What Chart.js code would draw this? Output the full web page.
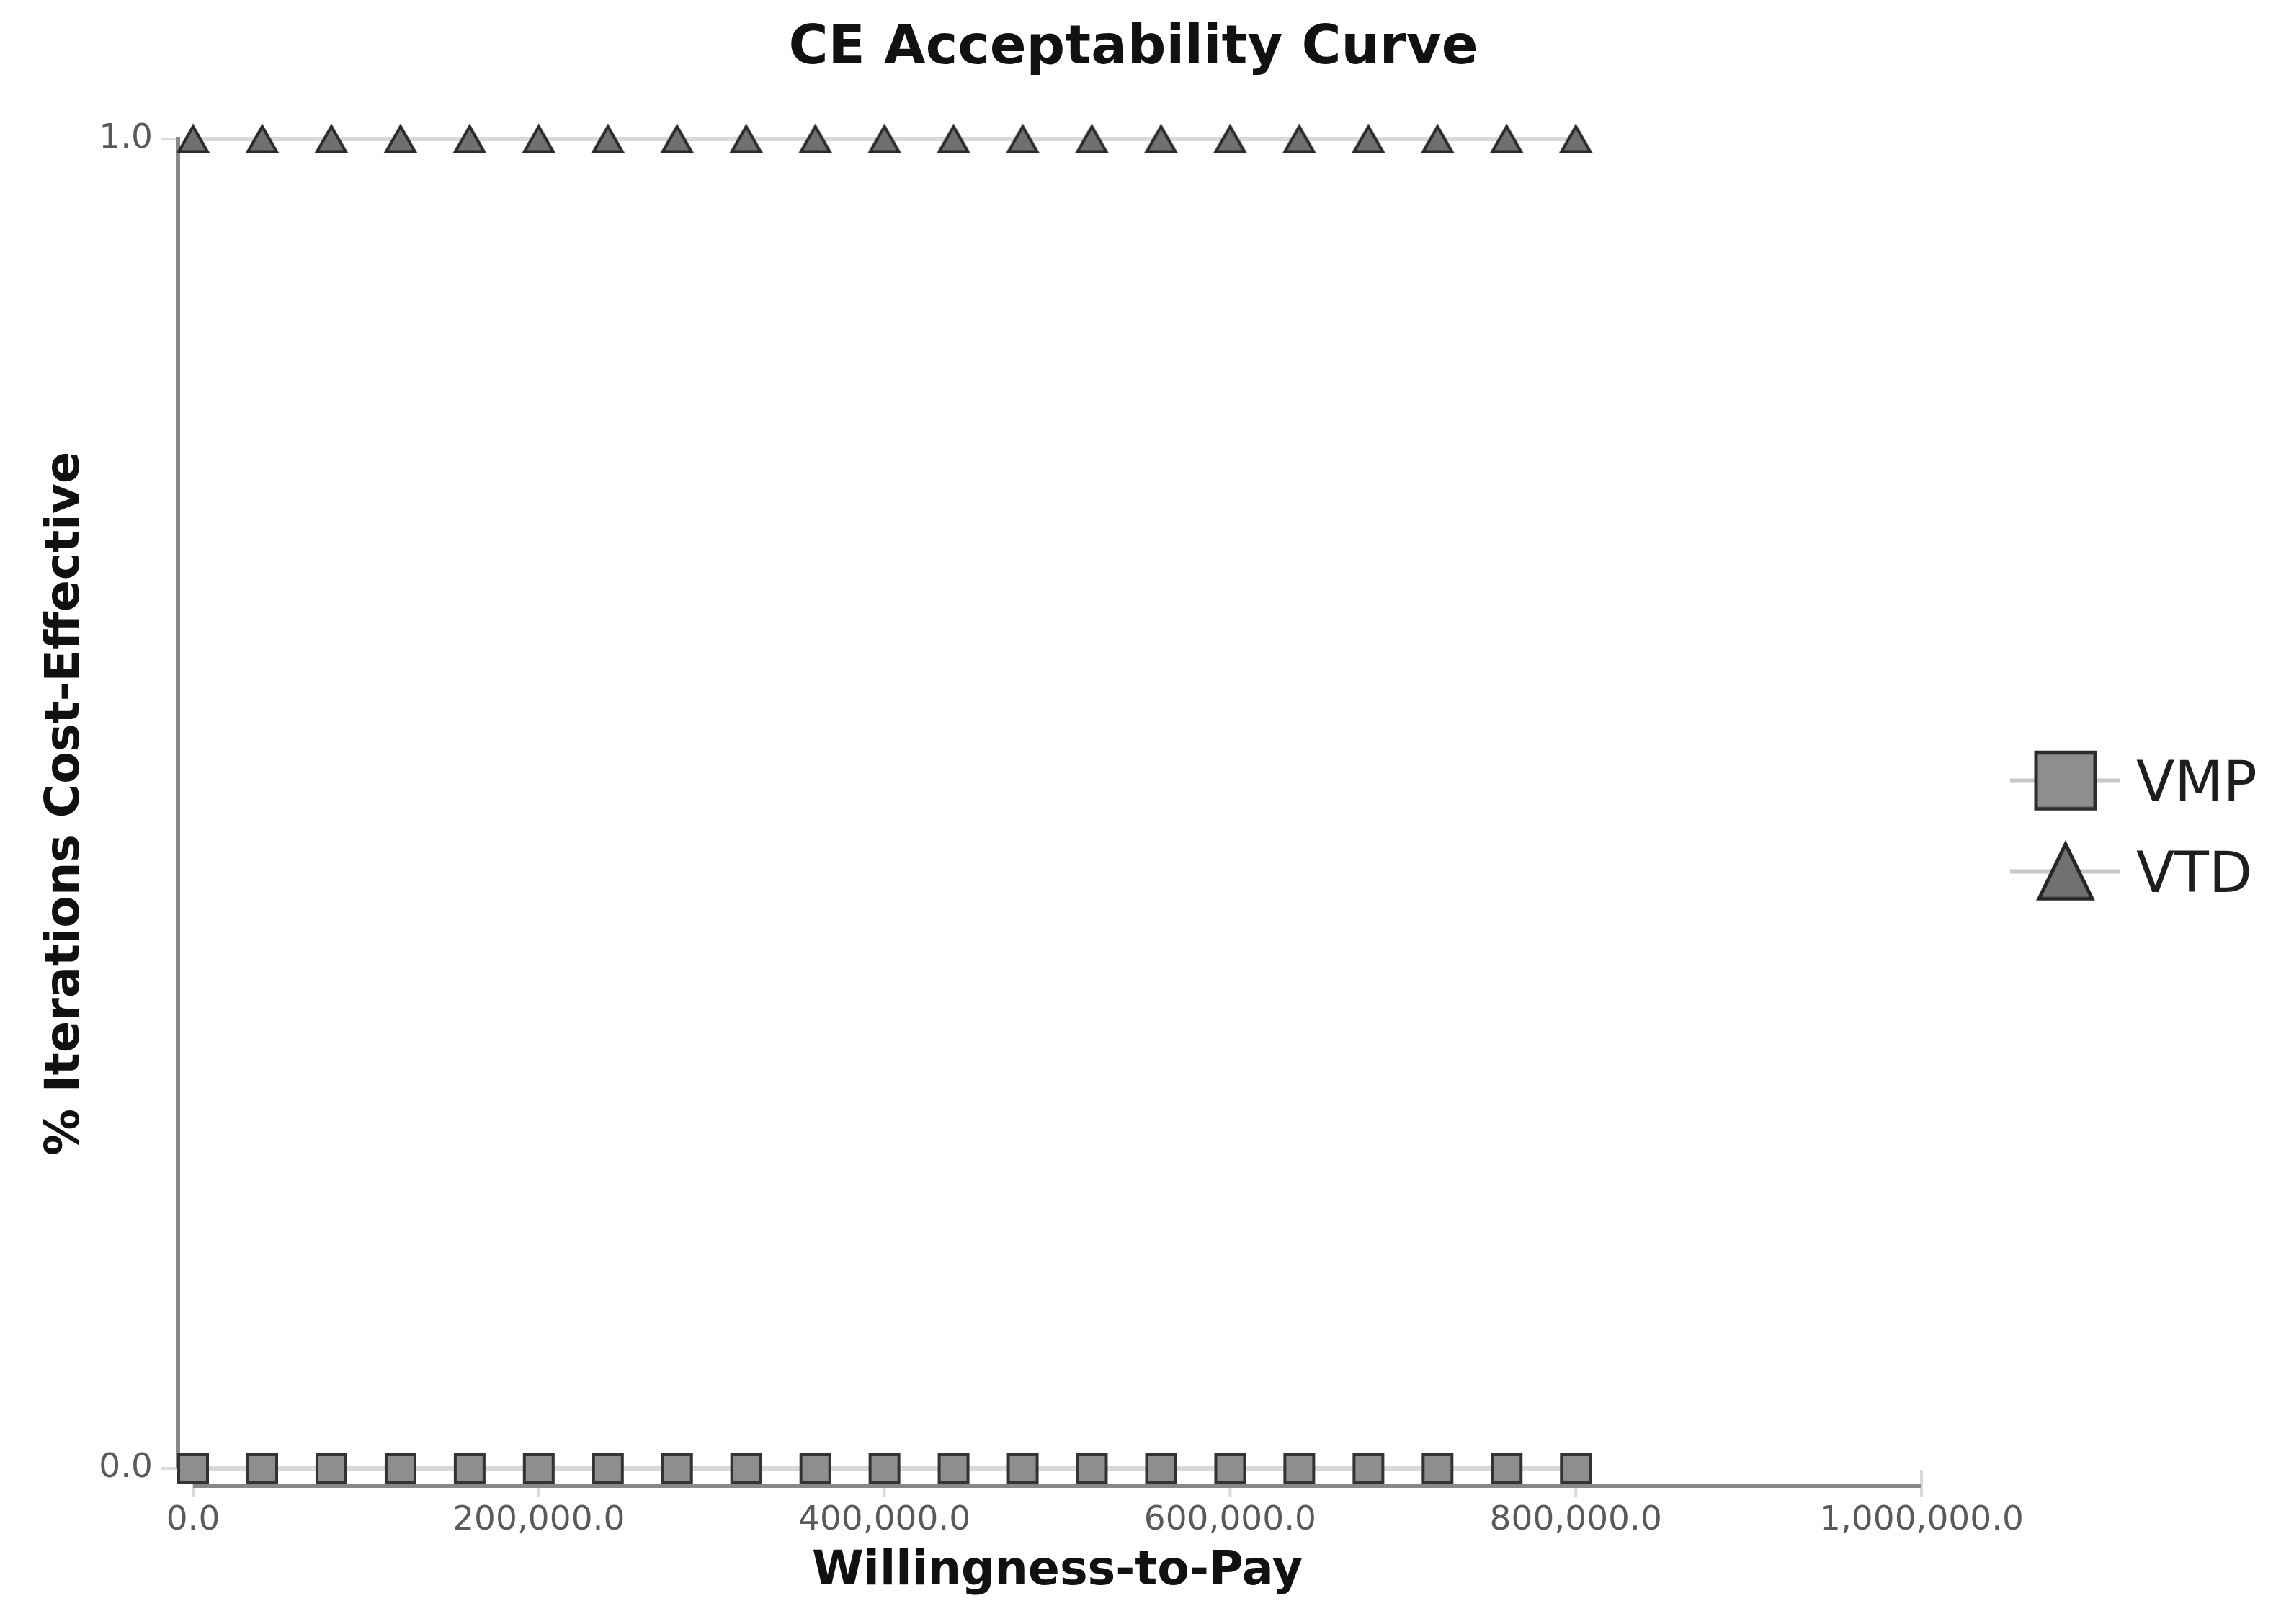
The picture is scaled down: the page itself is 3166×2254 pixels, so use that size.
<!DOCTYPE html>
<html>
<head>
<meta charset="utf-8">
<title>CE Acceptability Curve</title>
<script src="https://cdn.jsdelivr.net/npm/chart.js@4.4.1/dist/chart.umd.min.js"></script>
<style>
  html, body { margin: 0; padding: 0; background: #fff; }
  #wrap { width: 3166px; height: 2254px; }
</style>
</head>
<body>
<div id="wrap"><canvas id="ceac" width="3166" height="2254"></canvas></div>
<script>
// willingness-to-pay steps and share of iterations cost-effective
const wtp = [0, 40000, 80000, 120000, 160000, 200000, 240000, 280000, 320000, 360000, 400000,
             440000, 480000, 520000, 560000, 600000, 640000, 680000, 720000, 760000, 800000];
const vmp = [0, 0, 0, 0, 0, 0, 0, 0, 0, 0, 0, 0, 0, 0, 0, 0, 0, 0, 0, 0, 0];
const vtd = [1, 1, 1, 1, 1, 1, 1, 1, 1, 1, 1, 1, 1, 1, 1, 1, 1, 1, 1, 1, 1];
const seriesNames = ['VMP', 'VTD'];
const xTicks = [0, 200000, 400000, 600000, 800000, 1000000];
const yTicks = [0, 1];

const FONT = "'DejaVu Sans', Verdana, sans-serif";
Chart.defaults.font.family = FONT;

function makeMarker(shape, w, h, fill, stroke, lw) {
    const pad = lw * 2;
    const c = document.createElement('canvas');
    c.width = Math.ceil(w + pad * 2);
    c.height = Math.ceil(h + pad * 2);
    const g = c.getContext('2d');
    const cx = c.width / 2, cy = c.height / 2;
    g.beginPath();
    if (shape === 'square') {
        g.rect(cx - w / 2, cy - h / 2, w, h);
    } else {
        g.moveTo(cx, cy - h / 2);
        g.lineTo(cx + w / 2, cy + h / 2);
        g.lineTo(cx - w / 2, cy + h / 2);
        g.closePath();
    }
    g.fillStyle = fill;
    g.fill();
    g.lineWidth = lw;
    g.strokeStyle = stroke;
    g.lineJoin = 'miter';
    g.stroke();
    return c;
}

const squareFill = '#8e8e8e', triFill = '#707070';
const pointMarkers = [
    makeMarker('square', 40, 38, squareFill, '#333', 4),
    makeMarker('triangle', 40, 35, triFill, '#2a2a2a', 4)
];
const legendMarkers = [
    makeMarker('square', 82, 78, squareFill, '#2c2c2c', 5),
    makeMarker('triangle', 74, 76, triFill, '#262626', 5)
];

const fmt = v => Number(v).toLocaleString('en-US', { minimumFractionDigits: 1, maximumFractionDigits: 1 });

// JFreeChart-style axes: drawn a little away from the data area
const offsetAxes = {
    id: 'offsetAxes',
    beforeDatasetsDraw(chart) {
        const { ctx, chartArea: a, scales: { x, y } } = chart;
        ctx.save();
        ctx.strokeStyle = '#dadada';
        ctx.lineWidth = 4;
        ctx.beginPath();
        yTicks.forEach(v => {
            const py = y.getPixelForValue(v);
            ctx.moveTo(a.left - 45, py);
            ctx.lineTo(a.left - 22, py);
        });
        xTicks.forEach(v => {
            const px = x.getPixelForValue(v);
            ctx.moveTo(px, a.bottom + 2);
            ctx.lineTo(px, a.bottom + 40);
        });
        ctx.stroke();

        ctx.strokeStyle = '#888';
        ctx.lineWidth = 6;
        ctx.beginPath();
        ctx.moveTo(a.left - 21, a.top - 3);
        ctx.lineTo(a.left - 21, a.bottom);
        ctx.moveTo(a.left, a.bottom + 24);
        ctx.lineTo(a.right, a.bottom + 24);
        ctx.stroke();
        ctx.restore();
    }
};

const sideLegend = {
    id: 'sideLegend',
    afterDraw(chart) {
        const { ctx, chartArea: a } = chart;
        const cx = a.right + 200;
        const y0 = (a.top + a.bottom) / 2 - 32;
        ctx.save();
        chart.data.datasets.forEach((ds, i) => {
            const ry = y0 + i * 126;
            ctx.strokeStyle = '#c8c8c8';
            ctx.lineWidth = 6;
            ctx.beginPath();
            ctx.moveTo(cx - 77, ry);
            ctx.lineTo(cx + 76, ry);
            ctx.stroke();
            const m = legendMarkers[i];
            ctx.drawImage(m, cx - m.width / 2, ry - m.height / 2);
            ctx.fillStyle = '#1e1e1e';
            ctx.font = '78px ' + FONT;
            ctx.textAlign = 'left';
            ctx.textBaseline = 'middle';
            ctx.fillText(ds.label, cx + 98, ry + 8);
        });
        ctx.restore();
    }
};

function series(name, values, marker) {
    return {
        label: name,
        data: wtp.map((w, i) => ({ x: w, y: values[i] })),
        borderColor: '#d9d9d9',
        borderWidth: 6,
        pointStyle: marker,
        pointRadius: 20,
        pointHoverRadius: 20,
        tension: 0,
        clip: false
    };
}

new Chart(document.getElementById('ceac'), {
    type: 'line',
    data: {
        datasets: [
            series(seriesNames[0], vmp, pointMarkers[0]),
            series(seriesNames[1], vtd, pointMarkers[1])
        ]
    },
    options: {
        responsive: false,
        devicePixelRatio: 1,
        animation: false,
        events: [],
        layout: { autoPadding: false, padding: { top: 0, left: 0, bottom: 0, right: 20 } },
        plugins: {
            legend: { display: false },
            tooltip: { enabled: false },
            title: {
                display: true,
                text: 'CE Acceptability Curve',
                color: '#111',
                font: { size: 75, weight: 'bold' },
                padding: { top: 24, bottom: 79 }
            }
        },
        scales: {
            x: {
                type: 'linear',
                position: 'bottom',
                min: 0,
                max: 1000000,
                afterBuildTicks: s => { s.ticks = xTicks.map(v => ({ value: v })); },
                afterFit: s => { s.height = 216; },
                grid: { display: false, drawTicks: false },
                border: { display: false },
                ticks: { color: '#5a5a5a', font: { size: 47 }, padding: 45, maxRotation: 0, autoSkip: false, callback: fmt },
                title: {
                    display: true,
                    text: 'Willingness-to-Pay',
                    color: '#111',
                    font: { size: 65, weight: 'bold' },
                    padding: { top: 0, bottom: 33 }
                }
            },
            y: {
                type: 'linear',
                min: 0,
                max: 1,
                afterBuildTicks: s => { s.ticks = yTicks.map(v => ({ value: v })); },
                afterFit: s => { s.width = 268; },
                grid: { display: false, drawTicks: false },
                border: { display: false },
                ticks: { color: '#5a5a5a', font: { size: 47 }, padding: 56, callback: fmt },
                title: {
                    display: true,
                    text: '% Iterations Cost-Effective',
                    color: '#111',
                    font: { size: 65, weight: 'bold' },
                    padding: { top: 53, bottom: 0 }
                }
            },
            // empty strip on the right that holds the legend
            legendSpace: {
                type: 'linear',
                position: 'right',
                afterFit: s => { s.width = 479; },
                grid: { display: false, drawTicks: false },
                border: { display: false },
                ticks: { display: false }
            }
        }
    },
    plugins: [offsetAxes, sideLegend]
});
</script>
</body>
</html>
